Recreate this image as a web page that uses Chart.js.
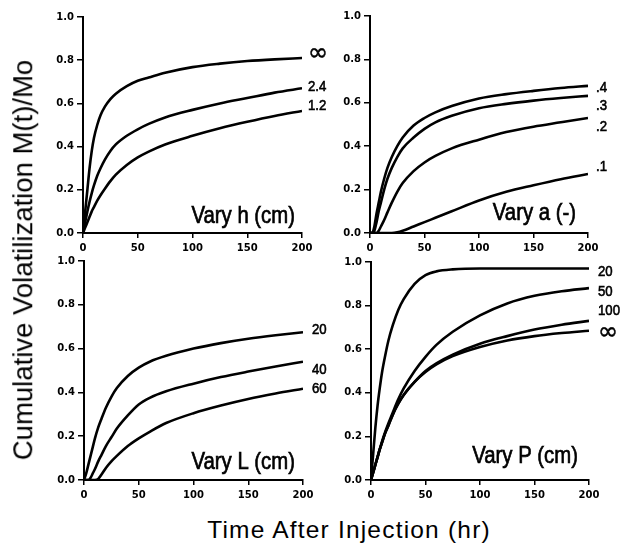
<!DOCTYPE html>
<html>
<head>
<meta charset="utf-8">
<script src="https://cdn.jsdelivr.net/npm/chart.js@4.4.1/dist/chart.umd.min.js"></script>
<style>
  body { margin: 0; width: 623px; height: 546px; background: #fff; position: relative; overflow: hidden; }
  canvas { position: absolute; }
  .ytitle {
    position: absolute; left: 23px; top: 260px;
    transform: translate(-50%, -50%) rotate(-90deg);
    font: 27.5px 'Liberation Sans', Arial, sans-serif; line-height: 1; white-space: nowrap; color: #000;
  }
  .xtitle {
    position: absolute; left: 349px; top: 530px;
    transform: translate(-50%, -50%);
    font: 24.5px 'Liberation Sans', Arial, sans-serif; letter-spacing: 1.2px; line-height: 1; white-space: nowrap; color: #000;
  }
</style>
</head>
<body>
<canvas id="panelH"></canvas>
<canvas id="panelA"></canvas>
<canvas id="panelL"></canvas>
<canvas id="panelP"></canvas>
<div class="ytitle">Cumulative Volatilization M(t)/Mo</div>
<div class="xtitle">Time After Injection (hr)</div>
<script>
// time after injection (hr), shared by every curve
const hours = [0, 2, 4, 6, 8, 10, 13, 16, 20, 25, 30, 40, 50, 60, 75, 100, 125, 150, 175, 200];

// Vary h (cm)
const hNames = ['∞', '2.4', '1.2'];
const hInf = [0, 0.1, 0.2, 0.3, 0.38, 0.44, 0.5, 0.545, 0.585, 0.62, 0.645, 0.68, 0.705, 0.72, 0.742, 0.768, 0.784, 0.796, 0.804, 0.81];
const h24  = [0, 0.05, 0.1, 0.145, 0.185, 0.22, 0.265, 0.3, 0.34, 0.38, 0.41, 0.45, 0.48, 0.505, 0.535, 0.57, 0.6, 0.625, 0.65, 0.67];
const h12  = [0, 0.025, 0.05, 0.075, 0.1, 0.12, 0.15, 0.175, 0.205, 0.24, 0.27, 0.315, 0.35, 0.377, 0.41, 0.45, 0.485, 0.515, 0.542, 0.565];

// Vary a (-)
const aNames = ['.4', '.3', '.2', '.1'];
const a4 = [0, 0, 0.03, 0.09, 0.14, 0.19, 0.25, 0.3, 0.35, 0.4, 0.44, 0.495, 0.53, 0.556, 0.585, 0.62, 0.64, 0.655, 0.668, 0.678];
const a3 = [0, 0, 0.01, 0.05, 0.1, 0.14, 0.2, 0.25, 0.3, 0.35, 0.39, 0.44, 0.48, 0.51, 0.54, 0.575, 0.595, 0.61, 0.622, 0.632];
const a2 = [0, 0, 0, 0, 0.01, 0.03, 0.06, 0.095, 0.14, 0.19, 0.23, 0.285, 0.325, 0.355, 0.39, 0.43, 0.465, 0.49, 0.51, 0.53];
const a1 = [0, 0, 0, 0, 0, 0, 0, 0, 0, 0.003, 0.01, 0.03, 0.05, 0.07, 0.1, 0.15, 0.19, 0.22, 0.248, 0.272];

// Vary L (cm)
const lNames = ['20', '40', '60'];
const l20 = [0, 0.03, 0.07, 0.11, 0.15, 0.19, 0.24, 0.28, 0.33, 0.38, 0.42, 0.475, 0.513, 0.54, 0.567, 0.6, 0.625, 0.645, 0.661, 0.675];
const l40 = [0, 0, 0, 0.01, 0.03, 0.05, 0.085, 0.115, 0.155, 0.195, 0.235, 0.295, 0.345, 0.375, 0.405, 0.44, 0.47, 0.495, 0.518, 0.54];
const l60 = [0, 0, 0, 0, 0, 0, 0.005, 0.025, 0.055, 0.085, 0.11, 0.155, 0.19, 0.22, 0.26, 0.305, 0.34, 0.37, 0.395, 0.417];

// Vary P (cm)
const pNames = ['20', '50', '100', '∞'];
const p20  = [0, 0.12, 0.24, 0.34, 0.42, 0.49, 0.57, 0.64, 0.71, 0.78, 0.83, 0.9, 0.94, 0.957, 0.966, 0.97, 0.97, 0.97, 0.97, 0.97];
const p50  = [0, 0.035, 0.07, 0.105, 0.14, 0.175, 0.22, 0.26, 0.31, 0.37, 0.42, 0.5, 0.565, 0.62, 0.68, 0.755, 0.81, 0.845, 0.866, 0.88];
const p100 = [0, 0.035, 0.07, 0.105, 0.14, 0.17, 0.215, 0.25, 0.3, 0.35, 0.39, 0.45, 0.5, 0.535, 0.575, 0.625, 0.66, 0.69, 0.712, 0.73];
const pInf = [0, 0.035, 0.07, 0.105, 0.14, 0.17, 0.215, 0.25, 0.3, 0.35, 0.39, 0.45, 0.495, 0.53, 0.568, 0.61, 0.64, 0.66, 0.674, 0.685];

const PAD_LEFT = 50, PAD_TOP = 12, PAD_RIGHT = 40, PAD_BOTTOM = 24;

// narrow, slightly heavy text: squeeze the glyphs sideways and thicken a bit
function squeezedText(ctx, text, x, y, sx, weight) {
  ctx.save();
  ctx.translate(x, y);
  ctx.scale(sx, 1);
  ctx.fillText(text, 0, 0);
  if (weight) {
    ctx.lineWidth = weight;
    ctx.strokeStyle = '#000';
    ctx.strokeText(text, 0, 0);
  }
  ctx.restore();
}

// writes curve names at line ends and the panel caption
const endLabels = {
  id: 'endLabels',
  afterDatasetsDraw(chart, args, opts) {
    const ctx = chart.ctx;
    const area = chart.chartArea;
    ctx.save();
    ctx.fillStyle = '#000';
    ctx.textAlign = 'left';
    ctx.textBaseline = 'middle';
    chart.data.datasets.forEach((ds, i) => {
      const pts = chart.getDatasetMeta(i).data;
      const last = pts[pts.length - 1];
      if (ds.label === '∞') {
        ctx.font = "24px 'DejaVu Sans'";
        squeezedText(ctx, ds.label, area.right + opts.gap, last.y + opts.dy[i], 1, 0.5);
      } else {
        ctx.font = "15px 'Liberation Sans', Arial";
        squeezedText(ctx, ds.label, area.right + opts.gap, last.y + opts.dy[i], 0.88, 0.6);
      }
    });
    ctx.font = "24.5px 'Liberation Sans', Arial";
    ctx.textAlign = 'right';
    ctx.textBaseline = 'alphabetic';
    squeezedText(ctx, opts.title, area.right - opts.titleRight, area.bottom - opts.titleBottom, 0.83, 0.7);
    ctx.restore();
  }
};

function makePanel(id, box, names, series, labelOpts) {
  const canvas = document.getElementById(id);
  canvas.width = box.right - box.left + PAD_LEFT + PAD_RIGHT;
  canvas.height = box.bottom - box.top + PAD_TOP + PAD_BOTTOM;
  canvas.style.left = (box.left - PAD_LEFT) + 'px';
  canvas.style.top = (box.top - PAD_TOP) + 'px';

  const tickFont = { family: "'DejaVu Sans'", weight: 'bold', size: 10 };
  const datasets = series.map((vals, i) => ({
    label: names[i],
    data: hours.map((t, j) => ({ x: t, y: vals[j] })),
    borderColor: '#000',
    borderWidth: 2.6,
    pointRadius: 0,
    fill: false,
    cubicInterpolationMode: 'monotone'
  }));

  return new Chart(canvas, {
    type: 'line',
    data: { datasets },
    options: {
      responsive: false,
      animation: false,
      layout: { autoPadding: false, padding: { left: 0, top: PAD_TOP, right: PAD_RIGHT, bottom: 0 } },
      plugins: { legend: { display: false }, tooltip: { enabled: false }, endLabels: labelOpts },
      scales: {
        x: {
          type: 'linear', min: 0, max: 200,
          ticks: { stepSize: 50, color: '#000', font: tickFont, padding: 4, maxRotation: 0 },
          grid: { drawOnChartArea: false, drawTicks: true, tickLength: 5, color: '#000', lineWidth: 1.5 },
          border: { display: true, color: '#000', width: 2 },
          afterFit: s => { s.height = PAD_BOTTOM; }
        },
        y: {
          min: 0, max: 1,
          ticks: { stepSize: 0.2, color: '#000', font: tickFont, padding: 3, callback: v => v.toFixed(1) },
          grid: { drawOnChartArea: false, drawTicks: true, tickLength: 6, color: '#000', lineWidth: 1.5 },
          border: { display: true, color: '#000', width: 2 },
          afterFit: s => { s.width = PAD_LEFT; }
        }
      }
    },
    plugins: [endLabels]
  });
}

makePanel('panelH', { left: 83, top: 17, right: 302, bottom: 233 }, hNames, [hInf, h24, h12],
  { gap: 6, dy: [-4, -1, -5], title: 'Vary h (cm)', titleRight: 7, titleBottom: 10 });
makePanel('panelA', { left: 370, top: 16, right: 588, bottom: 233 }, aNames, [a4, a3, a2, a1],
  { gap: 8, dy: [2, 10, 9, -7], title: 'Vary a (-)', titleRight: 12, titleBottom: 13 });
makePanel('panelL', { left: 84, top: 261, right: 303, bottom: 480 }, lNames, [l20, l40, l60],
  { gap: 9, dy: [-2, 8, 0], title: 'Vary L (cm)', titleRight: 8, titleBottom: 11 });
makePanel('panelP', { left: 371, top: 262, right: 589, bottom: 480 }, pNames, [p20, p50, p100, pInf],
  { gap: 9, dy: [3, 4, -10, 2], title: 'Vary P (cm)', titleRight: 11, titleBottom: 17 });
</script>
</body>
</html>
